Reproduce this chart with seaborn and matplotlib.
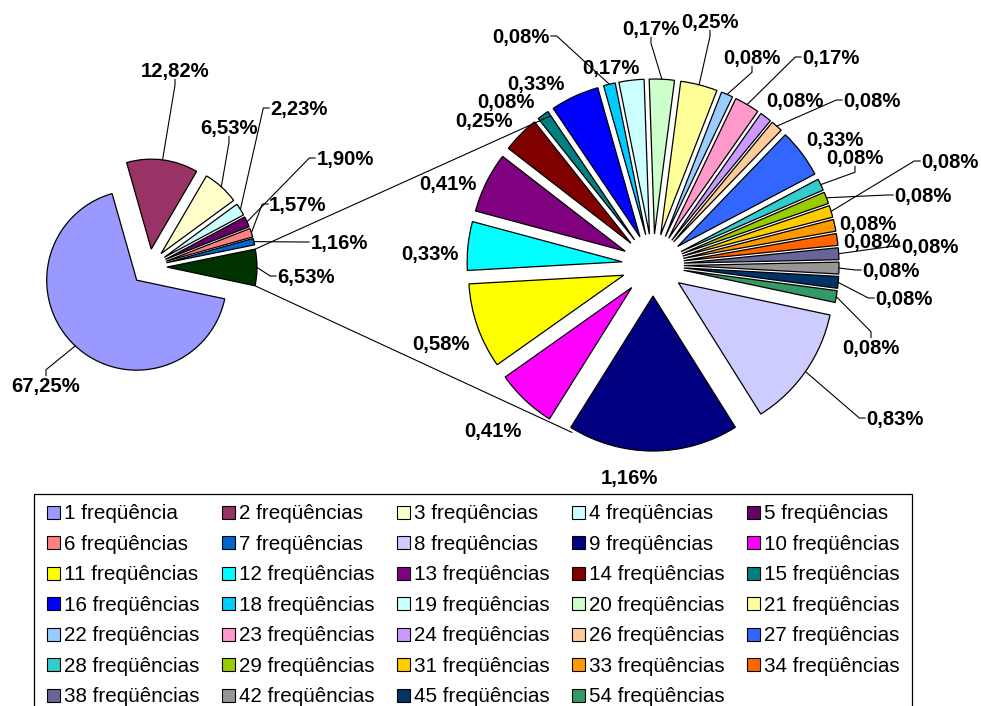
import math

import matplotlib
matplotlib.use("Agg")
import matplotlib.pyplot as plt
from matplotlib.patches import Rectangle
import seaborn as sns

# ---------------------------------------------------------------- data
# number of distinct frequencies per record (legend categories)
freq_counts = [1, 2, 3, 4, 5, 6, 7, 8, 9, 10, 11, 12, 13, 14, 15, 16, 18, 19, 20,
               21, 22, 23, 24, 26, 27, 28, 29, 31, 33, 34, 38, 42, 45, 54]

# share (%) of the categories shown in the main pie (1..7 frequencies)
main_shares = [67.25, 12.82, 6.53, 2.23, 1.90, 1.57, 1.16]
# total share of the remaining categories (grouped slice)
other_total = 6.53
# share (%) of the categories in the detail pie (8..54 frequencies)
other_shares = [0.83, 1.16, 0.41, 0.58, 0.33, 0.41, 0.25, 0.08, 0.33, 0.08,
                0.17, 0.17, 0.25, 0.08, 0.17, 0.08, 0.08, 0.33, 0.08, 0.08,
                0.08, 0.08, 0.08, 0.08, 0.08, 0.08, 0.08]

slice_colors = ["#9999FF", "#993366", "#FFFFCC", "#CCFFFF", "#660066", "#FF8080",
                "#0066CC", "#CCCCFF", "#000080", "#FF00FF", "#FFFF00", "#00FFFF",
                "#800080", "#800000", "#008080", "#0000FF", "#00CCFF", "#CCFFFF",
                "#CCFFCC", "#FFFF99", "#99CCFF", "#FF99CC", "#CC99FF", "#FFCC99",
                "#3366FF", "#33CCCC", "#99CC00", "#FFCC00", "#FF9900", "#FF6600",
                "#666699", "#969696", "#003366", "#339966"]
other_color = "#003300"

# ---------------------------------------------------------------- layout
W, H = 981, 706
LEFT_CENTER, LEFT_R = (149, 267), 90
RIGHT_CENTER, RIGHT_R = (653, 265), 155
EXPLODE = 0.2
START = -12

# label centres (pixel position, top-left origin) and leader side
left_label_pos = [(46, 385, "T"), (175, 70, "B"), (229, 127, "B"), (299, 108, "L"),
                  (345, 158, "L"), (298, 204, "L"), (339, 242, "L"), (306, 276, "L")]
right_label_pos = [(895, 418, "L"), (629, 477, None), (493, 430, None), (441, 343, None),
                   (430, 253, None), (448, 183, None), (484, 120, None), (506, 101, None),
                   (536, 83, None), (521, 36, "R"), (611, 67, None), (651, 28, "B"),
                   (710, 21, "B"), (752, 57, "B"), (831, 57, "L"), (795, 100, None),
                   (872, 100, "L"), (835, 139, None), (855, 157, "B"), (923, 195, "L"),
                   (950, 161, "L"), (868, 223, None), (872, 241, None), (930, 246, "L"),
                   (891, 270, "L"), (904, 298, "L"), (871, 347, "T")]

# ---------------------------------------------------------------- style
sns.set_theme(style="white")
plt.rcParams["font.family"] = ["Liberation Sans", "DejaVu Sans"]
LABEL_FS = 14.6
LEGEND_FS = 14.9
CAP_HALF = 0.716 * LABEL_FS * 100 / 72 / 2
LEG_CAP_HALF = 0.716 * LEGEND_FS * 100 / 72 / 2

palette = sns.color_palette(slice_colors)


def P(x, y):
    """top-left pixel position -> axes data coordinates (y up)"""
    return (x, H - y)


fig = plt.figure(figsize=(W / 100, H / 100), dpi=100)
ax = fig.add_axes([0, 0, 1, 1])

edge = dict(edgecolor="black", linewidth=0.9)
left_vals = main_shares + [other_total]
left_cols = list(palette[:7]) + [other_color]
wl, _ = ax.pie(left_vals, colors=left_cols, startangle=START, counterclock=False,
               radius=LEFT_R, center=P(*LEFT_CENTER),
               explode=[EXPLODE * LEFT_R] * len(left_vals), wedgeprops=edge, frame=True)
wr, _ = ax.pie(other_shares, colors=list(palette[7:]), startangle=START, counterclock=False,
               radius=RIGHT_R, center=P(*RIGHT_CENTER),
               explode=[EXPLODE * RIGHT_R] * len(other_shares), wedgeprops=edge, frame=True)

ax.set_xlim(0, W)
ax.set_ylim(0, H)
ax.set_aspect("equal")
ax.axis("off")

# connector lines between the grouped slice and the detail pie
other_w = wl[-1]
cx, cy = RIGHT_CENTER
for theta_edge, ang, rad in [(max(other_w.theta1, other_w.theta2), 124.7, 181),
                             (min(other_w.theta1, other_w.theta2), -115.7, 186)]:
    t = math.radians(theta_edge)
    x0 = other_w.center[0] + other_w.r * math.cos(t)
    y0 = other_w.center[1] + other_w.r * math.sin(t)
    x1, y1 = P(cx + rad * math.cos(math.radians(ang)), cy - rad * math.sin(math.radians(ang)))
    ax.plot([x0, x1], [y0, y1], color="black", lw=0.8, solid_capstyle="butt")

fig.canvas.draw()
renderer = fig.canvas.get_renderer()


def fmt(v):
    return f"{v:.2f}%".replace(".", ",")


def wedge_anchor(w):
    m = math.radians((w.theta1 + w.theta2) / 2)
    return w.center[0] + w.r * math.cos(m), w.center[1] + w.r * math.sin(m)


def put_label(w, value, pos, elbow=6):
    x, y, side = pos
    t = ax.text(x, H - y - CAP_HALF, fmt(value), ha="center", va="baseline",
                fontsize=LABEL_FS, fontweight="bold", color="black")
    if side is None:
        return
    bb = t.get_window_extent(renderer)
    ymid = H - y
    if side == "L":
        p0 = (bb.x0 - 1, ymid); p1 = (bb.x0 - 1 - elbow, ymid)
    elif side == "R":
        p0 = (bb.x1 + 1, ymid); p1 = (bb.x1 + 1 + elbow, ymid)
    elif side == "B":
        yb = ymid - CAP_HALF - 2
        p0 = (x, yb); p1 = (x, yb - elbow)
    else:
        yt = ymid + CAP_HALF + 2
        p0 = (x, yt); p1 = (x, yt + elbow)
    a = wedge_anchor(w)
    ax.plot([p0[0], p1[0], a[0]], [p0[1], p1[1], a[1]], color="black", lw=0.8)


for w, v, pos in zip(wl, left_vals, left_label_pos):
    put_label(w, v, pos)
for w, v, pos in zip(wr, other_shares, right_label_pos):
    put_label(w, v, pos)

# ---------------------------------------------------------------- legend
LEG_X0, LEG_Y0, COL_STEP, ROW_STEP = 47, 512, 175, 30.5
ax.add_patch(Rectangle(P(34, 740), 878, 246, fill=False, edgecolor="black", lw=0.9))
for i, (n, col) in enumerate(zip(freq_counts, palette)):
    r, c = divmod(i, 5)
    x = LEG_X0 + c * COL_STEP
    y = LEG_Y0 + r * ROW_STEP
    ax.add_patch(Rectangle(P(x, y + 6.5), 13, 13, facecolor=col, edgecolor="black", lw=0.8))
    name = "1 freqüência" if n == 1 else f"{n} freqüências"
    ax.text(x + 17, H - y - LEG_CAP_HALF, name, ha="left", va="baseline",
            fontsize=LEGEND_FS, color="black")

fig.savefig("out.png", dpi=100, facecolor="white")
